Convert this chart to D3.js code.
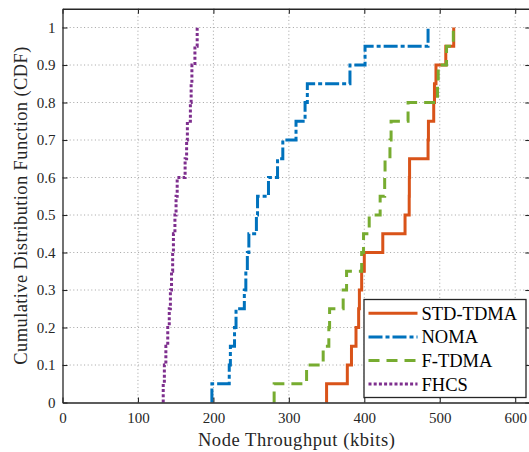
<!DOCTYPE html>
<html>
<head>
<meta charset="utf-8">
<script src="https://cdn.jsdelivr.net/npm/d3@7"></script>
<style>
  html, body { margin: 0; padding: 0; background: #fff; }
  svg { display: block; font-family: "Liberation Serif", "Times New Roman", serif; }
</style>
</head>
<body>
<svg id="chart" width="529" height="452"></svg>
<script>
// Sorted per-node throughput samples (kbits), 20 nodes per scheme
const stdTdma = [350, 377.5, 383, 389, 392.5, 393.5, 396.5, 400, 424.5, 454,
                 459.5, 459.7, 460, 484.5, 485, 492, 493, 495, 508, 518.5];
const noma    = [198, 221, 222.5, 228, 230, 241, 243, 245, 247, 257,
                 258.5, 273, 285, 292, 309.5, 321.5, 324.5, 381, 401, 484.5];
const fTdma   = [280.5, 323.5, 345.5, 353, 354, 372, 376.5, 396.5, 399, 406.5,
                 421, 427, 427.5, 434, 435.5, 458, 497, 498, 509, 518];
const fhcs    = [133.5, 135, 137, 139.5, 141.5, 143, 144.5, 146, 147, 149,
                 150.5, 152, 162.5, 164.5, 165.5, 169.5, 170.5, 171.5, 175.5, 178.5];

const seriesNames = ["STD-TDMA", "NOMA", "F-TDMA", "FHCS"];
const xTicks = [0, 100, 200, 300, 400, 500, 600];
const yTicks = [0, 0.1, 0.2, 0.3, 0.4, 0.5, 0.6, 0.7, 0.8, 0.9, 1];

const styles = [
  { color: "#D95319", dash: null },
  { color: "#0072BD", dash: "14,3,4,3" },
  { color: "#77AC30", dash: "11,7" },
  { color: "#7E2F8E", dash: "3,2.2" }
];
const allSeries = [stdTdma, noma, fTdma, fhcs];

const svg = d3.select("#chart");
const plotLeft = 62.5, plotTop = 8.75, plotBottom = 402.5;
const x = d3.scaleLinear().domain([0, 620]).range([plotLeft, plotLeft + 620 * 0.7545]);
const y = d3.scaleLinear().domain([0, 1.05]).range([plotBottom, plotTop]);
const plotRight = x(620);

// Dotted grid
const grid = svg.append("g").attr("stroke", "#999").attr("stroke-width", 0.9)
  .attr("stroke-dasharray", "1,2.6");
grid.selectAll(".gx").data(xTicks.filter(d => d > 0)).join("line")
  .attr("x1", d => x(d)).attr("x2", d => x(d)).attr("y1", plotBottom).attr("y2", plotTop);
grid.selectAll(".gy").data(yTicks.filter(d => d > 0)).join("line")
  .attr("x1", plotLeft).attr("x2", plotRight).attr("y1", d => y(d)).attr("y2", d => y(d));

// Empirical CDF step curves
const line = d3.line().x(d => x(d[0])).y(d => y(d[1])).curve(d3.curveStepAfter);
allSeries.forEach((vals, k) => {
  const n = vals.length;
  const pts = [[vals[0], 0]].concat(vals.map((v, i) => [v, (i + 1) / n]));
  svg.append("path")
    .attr("d", line(pts))
    .attr("fill", "none")
    .attr("stroke", styles[k].color)
    .attr("stroke-width", 3)
    .attr("stroke-dasharray", styles[k].dash);
});

// Axes with inward ticks
const axisColor = "#262626";
const xAxis = svg.append("g").attr("transform", `translate(0,${plotBottom})`)
  .call(d3.axisBottom(x).tickValues(xTicks).tickSizeInner(-5).tickSizeOuter(0).tickPadding(10));
const yAxis = svg.append("g").attr("transform", `translate(${plotLeft},0)`)
  .call(d3.axisLeft(y).tickValues(yTicks).tickSizeInner(-5).tickSizeOuter(0).tickPadding(7)
    .tickFormat(d => d === 0 || d === 1 ? d3.format("d")(d) : d3.format(".1f")(d)));
const xTopAxis = svg.append("g").attr("transform", `translate(0,${plotTop})`)
  .call(d3.axisTop(x).tickValues(xTicks).tickSizeInner(-5).tickSizeOuter(0).tickFormat(""));
const yRightAxis = svg.append("g").attr("transform", `translate(${plotRight},0)`)
  .call(d3.axisRight(y).tickValues(yTicks).tickSizeInner(-5).tickSizeOuter(0).tickFormat(""));
[xAxis, yAxis, xTopAxis, yRightAxis].forEach(g => {
  g.select(".domain").attr("stroke", axisColor).attr("stroke-width", 1.3);
  g.selectAll(".tick line").attr("stroke", axisColor).attr("stroke-width", 1.1);
  g.selectAll("text").attr("fill", "#262626").attr("font-size", 15)
    .attr("font-family", "'Liberation Serif', 'Times New Roman', serif");
});

// Axis titles
svg.append("text")
  .attr("x", (plotLeft + plotRight) / 2).attr("y", 446)
  .attr("text-anchor", "middle").attr("font-size", 18.5).attr("fill", "#262626")
  .attr("textLength", 197).attr("lengthAdjust", "spacing")
  .text("Node Throughput (kbits)");
svg.append("text")
  .attr("transform", `translate(27,${(plotTop + plotBottom) / 2}) rotate(-90)`)
  .attr("text-anchor", "middle").attr("font-size", 18.5).attr("fill", "#262626")
  .attr("textLength", 318).attr("lengthAdjust", "spacing")
  .text("Cumulative Distribution Function (CDF)");

// Legend
const lg = svg.append("g");
lg.append("rect").attr("x", 364).attr("y", 299.5).attr("width", 162).attr("height", 98)
  .attr("fill", "#fff").attr("stroke", axisColor).attr("stroke-width", 1.3);
seriesNames.forEach((name, k) => {
  const cy = 313.3 + k * 23.6;
  lg.append("line").attr("x1", 368.5).attr("x2", 417.5).attr("y1", cy).attr("y2", cy)
    .attr("stroke", styles[k].color).attr("stroke-width", 3)
    .attr("stroke-dasharray", styles[k].dash);
  lg.append("text").attr("x", 421.5).attr("y", cy + 6.5)
    .attr("font-size", 18.5).attr("fill", "#000").text(name);
});
</script>
</body>
</html>
